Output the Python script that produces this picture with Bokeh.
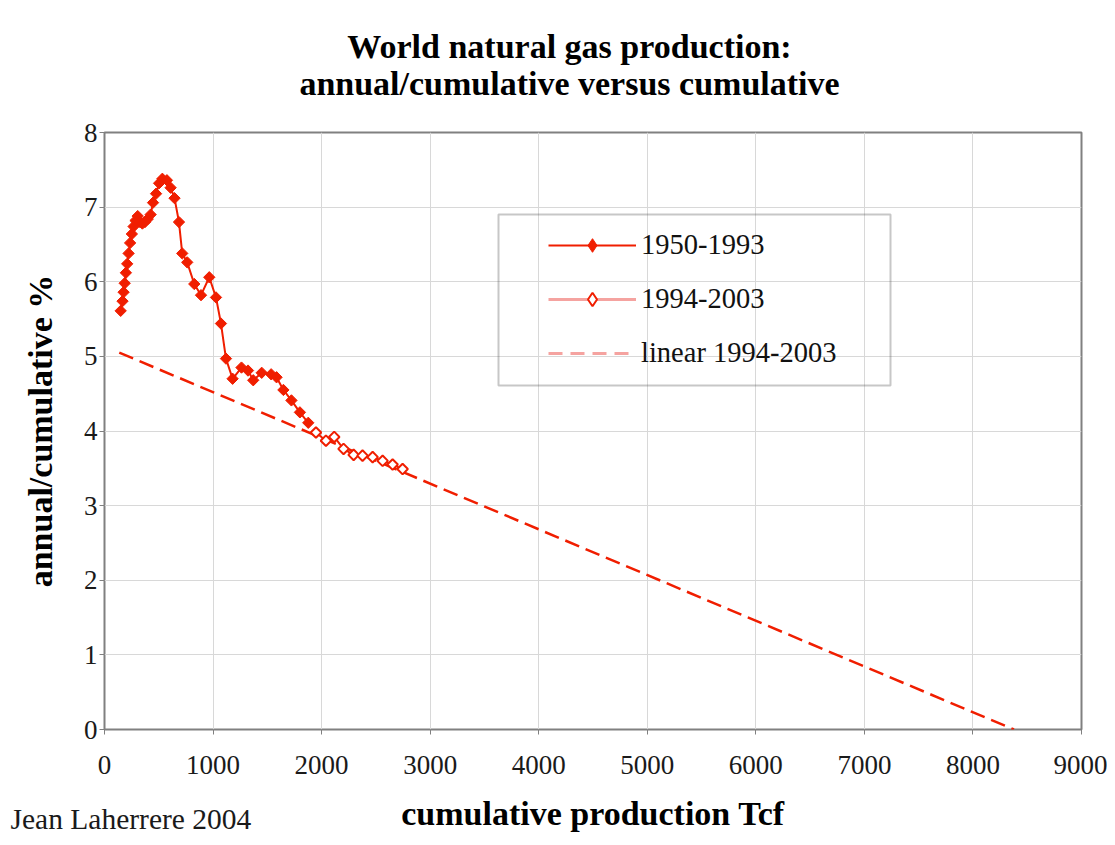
from bokeh.plotting import figure
from bokeh.models import (Range1d, FixedTicker, Legend, LegendItem, Label,
                          BoxAnnotation, ColumnDataSource)
from bokeh.embed import file_html
from bokeh.resources import INLINE
import math

# ---- data ----
cum_1950_1993 = [149, 166, 176, 186, 197, 209, 222, 236, 252, 268, 286, 306,
                 327, 349, 373, 398, 425, 447, 475, 503, 533, 575, 609, 645,
                 686, 716, 762, 827, 889, 965, 1027, 1073, 1119, 1180, 1262,
                 1322, 1370, 1448, 1535, 1585, 1648, 1722, 1800, 1877]
pct_1950_1993 = [5.61, 5.74, 5.86, 5.98, 6.12, 6.24, 6.38, 6.52, 6.64, 6.74,
                 6.82, 6.88, 6.80, 6.78, 6.80, 6.84, 6.90, 7.06, 7.18, 7.32,
                 7.38, 7.36, 7.26, 7.12, 6.80, 6.38, 6.26, 5.97, 5.82, 6.06,
                 5.79, 5.44, 4.97, 4.70, 4.85, 4.81, 4.68, 4.78, 4.76, 4.72,
                 4.55, 4.41, 4.25, 4.11]
cum_1994_2003 = [1948, 2040, 2116, 2202, 2295, 2377, 2470, 2562, 2654, 2746]
pct_1994_2003 = [3.98, 3.87, 3.92, 3.76, 3.68, 3.67, 3.65, 3.60, 3.55, 3.49]
cum_linear = [136, 8378]
pct_linear = [5.05, 0.0]

x_ticks = [0, 1000, 2000, 3000, 4000, 5000, 6000, 7000, 8000, 9000]
y_ticks = [0, 1, 2, 3, 4, 5, 6, 7, 8]

title_1 = "World natural gas production:"
title_2 = "annual/cumulative versus cumulative"
x_label = "cumulative production Tcf"
y_label = "annual/cumulative %"
credit = "Jean Laherrere 2004"
labels = ["1950-1993", "1994-2003", "linear 1994-2003"]

RED = "#F01E00"
PINK = "#F5A3A0"
SERIF = "Liberation Serif"
NAN = float("nan")

p = figure(width=1107, height=837, output_backend="svg", toolbar_location=None,
           x_range=Range1d(0, 9000), y_range=Range1d(0, 8), title=None,
           min_border_left=104, min_border_right=26, min_border_top=132,
           min_border_bottom=108)
p.background_fill_color = "white"
p.border_fill_color = "white"
p.outline_line_color = "#808080"
p.outline_line_width = 2

for ax in (p.xaxis[0], p.yaxis[0]):
    ax.axis_line_color = None
    ax.major_tick_line_color = "#808080"
    ax.major_tick_out = 5
    ax.major_tick_in = 0
    ax.minor_tick_line_color = None
    ax.major_label_text_font = SERIF
    ax.major_label_text_font_size = "27px"
    ax.major_label_text_color = "#1a1a1a"
    ax.axis_label_text_font = SERIF
    ax.axis_label_text_font_style = "bold"
    ax.axis_label_text_font_size = "34px"
    ax.axis_label_text_color = "black"

p.xaxis.ticker = FixedTicker(ticks=x_ticks)
p.yaxis.ticker = FixedTicker(ticks=y_ticks)
p.xaxis.axis_label = x_label
p.yaxis.axis_label = y_label
p.xaxis.major_label_standoff = 21
p.xaxis.axis_label_standoff = 18
p.yaxis.major_label_standoff = 2
p.yaxis.axis_label_standoff = 22

p.xgrid.ticker = FixedTicker(ticks=x_ticks)
p.ygrid.ticker = FixedTicker(ticks=y_ticks)
p.grid.grid_line_color = "#D8D8D8"
p.grid.grid_line_width = 1

# ---- data marks ----
p.line(cum_linear, pct_linear, line_color=RED, line_width=2.5, line_dash="15 7")
p.line(cum_1950_1993, pct_1950_1993, line_color=RED, line_width=2)
p.scatter(cum_1950_1993, pct_1950_1993, marker="square", size=8,
          angle=math.pi / 4, fill_color=RED, line_color=RED, line_width=1)
p.line(cum_1994_2003, pct_1994_2003, line_color=RED, line_width=2)
p.scatter(cum_1994_2003, pct_1994_2003, marker="square", size=7.5,
          angle=math.pi / 4, fill_color="white", line_color=RED, line_width=2)

# ---- legend (style-only renderers, nothing plotted) ----
def blank():
    return ColumnDataSource(dict(x=[NAN], y=[NAN]))

l1 = p.line("x", "y", source=blank(), line_color=RED, line_width=2)
m1 = p.scatter("x", "y", source=blank(), marker="diamond", size=15,
               fill_color=RED, line_color=RED)
l2 = p.line("x", "y", source=blank(), line_color=PINK, line_width=3)
m2 = p.scatter("x", "y", source=blank(), marker="diamond", size=14,
               fill_color="white", line_color=RED, line_width=2)
l3 = p.line("x", "y", source=blank(), line_color=PINK, line_width=3,
            line_dash="14 8")

legend = Legend(items=[LegendItem(label=labels[0], renderers=[l1, m1]),
                       LegendItem(label=labels[1], renderers=[l2, m2]),
                       LegendItem(label=labels[2], renderers=[l3])],
                location=(430, 345), padding=14, spacing=20, margin=0,
                glyph_width=88, glyph_height=34, label_height=34,
                label_standoff=5, label_text_font=SERIF,
                label_text_font_size="28.5px", label_text_color="#111111",
                border_line_alpha=0, background_fill_alpha=0)
p.add_layout(legend)

p.add_layout(BoxAnnotation(left=394, right=786, bottom=344, top=515,
                           left_units="screen", right_units="screen",
                           bottom_units="screen", top_units="screen",
                           fill_alpha=0, line_color="#444444", line_width=2))

# ---- credit and titles (side panels, placed relative to their panels) ----
p.add_layout(Label(x=-94, y=-686, x_units="screen", y_units="screen",
                   text=credit, text_align="left", text_baseline="middle",
                   text_font=SERIF, text_font_size="29.5px",
                   text_color="#1a1a1a"), "above")
p.add_layout(Label(x=465, y=36, x_units="screen", y_units="screen",
                   text=title_1 + "\n" + title_2, text_align="center",
                   text_baseline="middle", text_line_height=1.0,
                   text_font=SERIF, text_font_style="bold",
                   text_font_size="34px", text_color="black"), "above")

open("out.html", "w").write(file_html(p, INLINE))
